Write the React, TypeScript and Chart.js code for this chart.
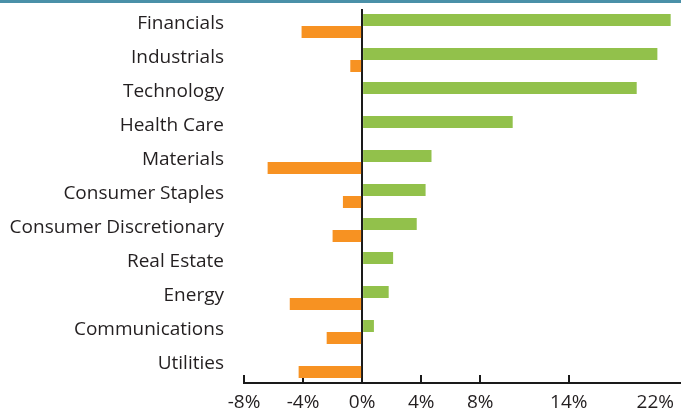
import React, { useEffect, useRef } from "react";
import { Chart, registerables } from "chart.js";

Chart.register(...registerables);

const categories = [
  "Financials",
  "Industrials",
  "Technology",
  "Health Care",
  "Materials",
  "Consumer Staples",
  "Consumer Discretionary",
  "Real Estate",
  "Energy",
  "Communications",
  "Utilities",
];
const gains: (number | null)[] = [20.9, 20.0, 18.6, 10.2, 4.7, 4.3, 3.7, 2.1, 1.8, 0.8, null];
const losses: (number | null)[] = [-4.1, -0.8, null, null, -6.4, -1.3, -2.0, null, -4.9, -2.4, -4.3];
const tickValues = [-8, -4, 0, 4, 8, 14, 22];
const tickLabels = ["-8%", "-4%", "0%", "4%", "8%", "14%", "22%"];

const GREEN = "#92c14b";
const ORANGE = "#f79222";
const TEXT = "#231f20";
const AXIS = "#1a1a1a";
const FONT = "'Open Sans', sans-serif";

const lastLabelPlugin = {
  id: "lastLabelInside",
  beforeDraw(chart: any) {
    const s: any = chart.scales.x;
    if (!s) return;
    const items = s.getLabelItems();
    const last = items[items.length - 1];
    if (last && last.label === tickLabels[tickLabels.length - 1]) {
      last.options.translation[0] = chart.width - 7;
      last.options.textAlign = "right";
    }
  },
};

export default function App() {
  const ref = useRef<HTMLCanvasElement | null>(null);

  useEffect(() => {
    if (!ref.current) return;
    Chart.defaults.font.family = FONT;
    const chart = new Chart(ref.current, {
      type: "bar",
      data: {
        labels: categories,
        datasets: [
          {
            label: "Gain",
            data: gains,
            backgroundColor: GREEN,
            borderWidth: 0,
            categoryPercentage: 0.706,
            barPercentage: 1,
          },
          {
            label: "Loss",
            data: losses,
            backgroundColor: ORANGE,
            borderWidth: 0,
            categoryPercentage: 0.706,
            barPercentage: 1,
          },
        ],
      },
      options: {
        indexAxis: "y",
        responsive: false,
        animation: false,
        layout: { padding: { top: 6, right: 0, bottom: 0, left: 0 } },
        plugins: {
          legend: { display: false },
          tooltip: { enabled: false },
          title: { display: false },
        },
        scales: {
          x: {
            type: "linear",
            position: "bottom",
            min: -8,
            max: 21.6,
            z: 1,
            afterBuildTicks: (axis: any) => {
              axis.ticks = tickValues.map((v) => ({ value: v }));
            },
            afterFit: (axis: any) => {
              axis.paddingRight = 0;
              axis.height = 28;
            },
            ticks: {
              autoSkip: false,
              maxRotation: 0,
              padding: 16,
              color: TEXT,
              font: { size: 19, family: FONT },
              callback: (value: any) => {
                const i = tickValues.indexOf(Number(value));
                return i >= 0 ? tickLabels[i] : "";
              },
            },
            grid: {
              drawOnChartArea: true,
              color: (ctx: any) => (ctx.tick && ctx.tick.value === 0 ? AXIS : "rgba(0,0,0,0)"),
              lineWidth: 2,
              drawTicks: true,
              tickLength: -8,
              tickWidth: 2,
              tickColor: (ctx: any) =>
                ctx.tick && ctx.tick.value > 21.6 ? "rgba(0,0,0,0)" : AXIS,
            },
            border: { display: true, color: AXIS, width: 2 },
          },
          y: {
            type: "category",
            afterFit: (axis: any) => {
              axis.width = 244;
              axis.paddingTop = 0;
              axis.paddingBottom = 0;
            },
            grid: { display: false, drawTicks: false },
            border: { display: false },
            ticks: {
              padding: 20,
              color: TEXT,
              font: { size: 19, family: FONT },
              labelOffset: -2,
            },
          },
        },
      },
      plugins: [lastLabelPlugin],
    } as any);
    return () => chart.destroy();
  }, []);

  return (
    <div
      style={{
        position: "absolute",
        left: 0,
        top: 0,
        width: 681,
        height: 411,
        borderTop: "3px solid #4a90a8",
        boxSizing: "border-box",
        background: "#fff",
      }}
    >
      <canvas ref={ref} width={681} height={408} style={{ display: "block" }} />
    </div>
  );
}
